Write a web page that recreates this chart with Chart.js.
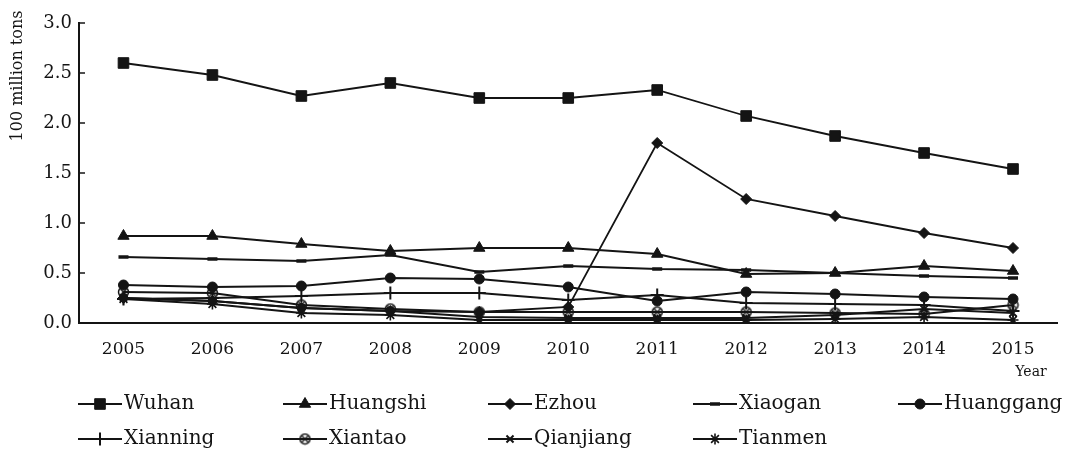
<!DOCTYPE html>
<html>
<head>
<meta charset="utf-8">
<script src="https://cdn.jsdelivr.net/npm/chart.js@4/dist/chart.umd.min.js"></script>
<style>
  body { margin: 0; background: #fff; }
  #chart { display: block; }
</style>
</head>
<body>
<canvas id="chart" width="1066" height="451"></canvas>
<script>
// years and values (100 million tons)
const years = ['2005', '2006', '2007', '2008', '2009', '2010', '2011', '2012', '2013', '2014', '2015'];
const yTicks = [0, 0.5, 1.0, 1.5, 2.0, 2.5, 3.0];

const wuhan     = [2.60, 2.48, 2.27, 2.40, 2.25, 2.25, 2.33, 2.07, 1.87, 1.70, 1.54];
const huangshi  = [0.87, 0.87, 0.79, 0.72, 0.75, 0.75, 0.69, 0.49, 0.50, 0.57, 0.52];
const ezhou     = [0.25, 0.22, 0.15, 0.12, 0.11, 0.16, 1.80, 1.24, 1.07, 0.90, 0.75];
const xiaogan   = [0.66, 0.64, 0.62, 0.68, 0.51, 0.57, 0.54, 0.53, 0.50, 0.47, 0.45];
const huanggang = [0.38, 0.36, 0.37, 0.45, 0.44, 0.36, 0.22, 0.31, 0.29, 0.26, 0.24];
const xianning  = [0.24, 0.25, 0.27, 0.30, 0.30, 0.23, 0.28, 0.20, 0.19, 0.18, 0.12];
const xiantao   = [0.31, 0.30, 0.18, 0.14, 0.11, 0.11, 0.11, 0.11, 0.10, 0.09, 0.18];
const qianjiang = [0.25, 0.22, 0.15, 0.12, 0.06, 0.05, 0.05, 0.05, 0.08, 0.14, 0.10];
const tianmen   = [0.24, 0.19, 0.10, 0.08, 0.03, 0.03, 0.03, 0.03, 0.04, 0.06, 0.03];

const ink = '#141414';
const serif = 'DejaVu Serif';

// circle with a cross inside, for Xiantao
function crossCircle() {
    const c = document.createElement('canvas');
    c.width = 13;
    c.height = 13;
    const g = c.getContext('2d');
    g.strokeStyle = ink;
    g.lineWidth = 1.5;
    g.beginPath();
    g.arc(6.5, 6.5, 5, 0, Math.PI * 2);
    g.stroke();
    g.beginPath();
    g.moveTo(3.5, 3.5); g.lineTo(9.5, 9.5);
    g.moveTo(9.5, 3.5); g.lineTo(3.5, 9.5);
    g.stroke();
    return c;
}

function series(label, data, style, radius, bw) {
    return {
        label: label,
        data: data,
        borderColor: ink,
        backgroundColor: ink,
        borderWidth: 1.8,
        pointStyle: style,
        pointRadius: radius,
        pointBorderWidth: bw,
        pointBackgroundColor: ink,
        pointBorderColor: ink,
        tension: 0
    };
}

const datasets = [
    series('Wuhan', wuhan, 'rect', 7.5, 1),
    series('Huangshi', huangshi, 'triangle', 6.5, 1),
    series('Ezhou', ezhou, 'rectRot', 5.5, 1),
    series('Xiaogan', xiaogan, 'line', 5, 3.5),
    series('Huanggang', huanggang, 'circle', 5, 1),
    series('Xianning', xianning, 'cross', 6.5, 2),
    series('Xiantao', xiantao, crossCircle(), 6, 1),
    series('Qianjiang', qianjiang, 'crossRot', 5, 2),
    series('Tianmen', tianmen, 'star', 5.5, 1.6)
];

const extras = {
    id: 'extras',
    afterDraw(chart) {
        const ctx = chart.ctx;
        const area = chart.chartArea;
        const y = chart.scales.y;
        ctx.save();
        ctx.strokeStyle = ink;
        ctx.lineWidth = 1.5;
        // inward tick marks on the value axis
        y.ticks.forEach(t => {
            const py = y.getPixelForValue(t.value);
            ctx.beginPath();
            ctx.moveTo(area.left, py);
            ctx.lineTo(area.left + 6, py);
            ctx.stroke();
        });
        ctx.fillStyle = ink;

        // axis titles
        ctx.save();
        ctx.translate(18, 76);
        ctx.rotate(-Math.PI / 2);
        ctx.font = '16px ' + serif;
        ctx.textAlign = 'center';
        ctx.textBaseline = 'middle';
        ctx.fillText('100 million tons', 0, 0);
        ctx.restore();

        ctx.font = '14px ' + serif;
        ctx.textAlign = 'center';
        ctx.textBaseline = 'middle';
        ctx.fillText('Year', 1031, 372);

        // legend in a 5 column grid
        ctx.font = '20px ' + serif;
        ctx.textAlign = 'left';
        chart.data.datasets.forEach((ds, i) => {
            const x0 = 78 + (i % 5) * 205;
            const yy = 404 + Math.floor(i / 5) * 35;
            ctx.strokeStyle = ink;
            ctx.lineWidth = 1.8;
            ctx.beginPath();
            ctx.moveTo(x0, yy);
            ctx.lineTo(x0 + 44, yy);
            ctx.stroke();
            ctx.fillStyle = ink;
            ctx.lineWidth = ds.pointBorderWidth;
            Chart.helpers.drawPoint(ctx, {
                pointStyle: ds.pointStyle,
                radius: ds.pointRadius,
                borderWidth: ds.pointBorderWidth,
                rotation: 0
            }, x0 + 22, yy);
            ctx.fillText(ds.label, x0 + 46, yy);
        });
        ctx.restore();
    }
};

new Chart(document.getElementById('chart').getContext('2d'), {
    type: 'line',
    data: { labels: years, datasets: datasets },
    options: {
        responsive: false,
        animation: false,
        devicePixelRatio: 1,
        layout: { padding: { top: 23, right: 6, bottom: 88, left: 0 } },
        plugins: {
            legend: { display: false },
            tooltip: { enabled: false }
        },
        scales: {
            x: {
                type: 'category',
                offset: true,
                grid: { display: false, drawTicks: false },
                border: { display: true, color: ink, width: 2 },
                ticks: {
                    color: ink,
                    font: { family: serif, size: 17 },
                    padding: 16,
                    maxRotation: 0,
                    autoSkip: false
                },
                afterFit(scale) { scale.height = 40; }
            },
            y: {
                min: 0,
                max: 3,
                grid: { display: false, drawTicks: false },
                border: { display: true, color: ink, width: 2 },
                afterBuildTicks(scale) {
                    scale.ticks = yTicks.map(v => ({ value: v }));
                },
                ticks: {
                    color: ink,
                    font: { family: serif, size: 18 },
                    padding: 7,
                    callback: v => v.toFixed(1)
                },
                afterFit(scale) { scale.width = 79; }
            }
        }
    },
    plugins: [extras]
});
</script>
</body>
</html>
